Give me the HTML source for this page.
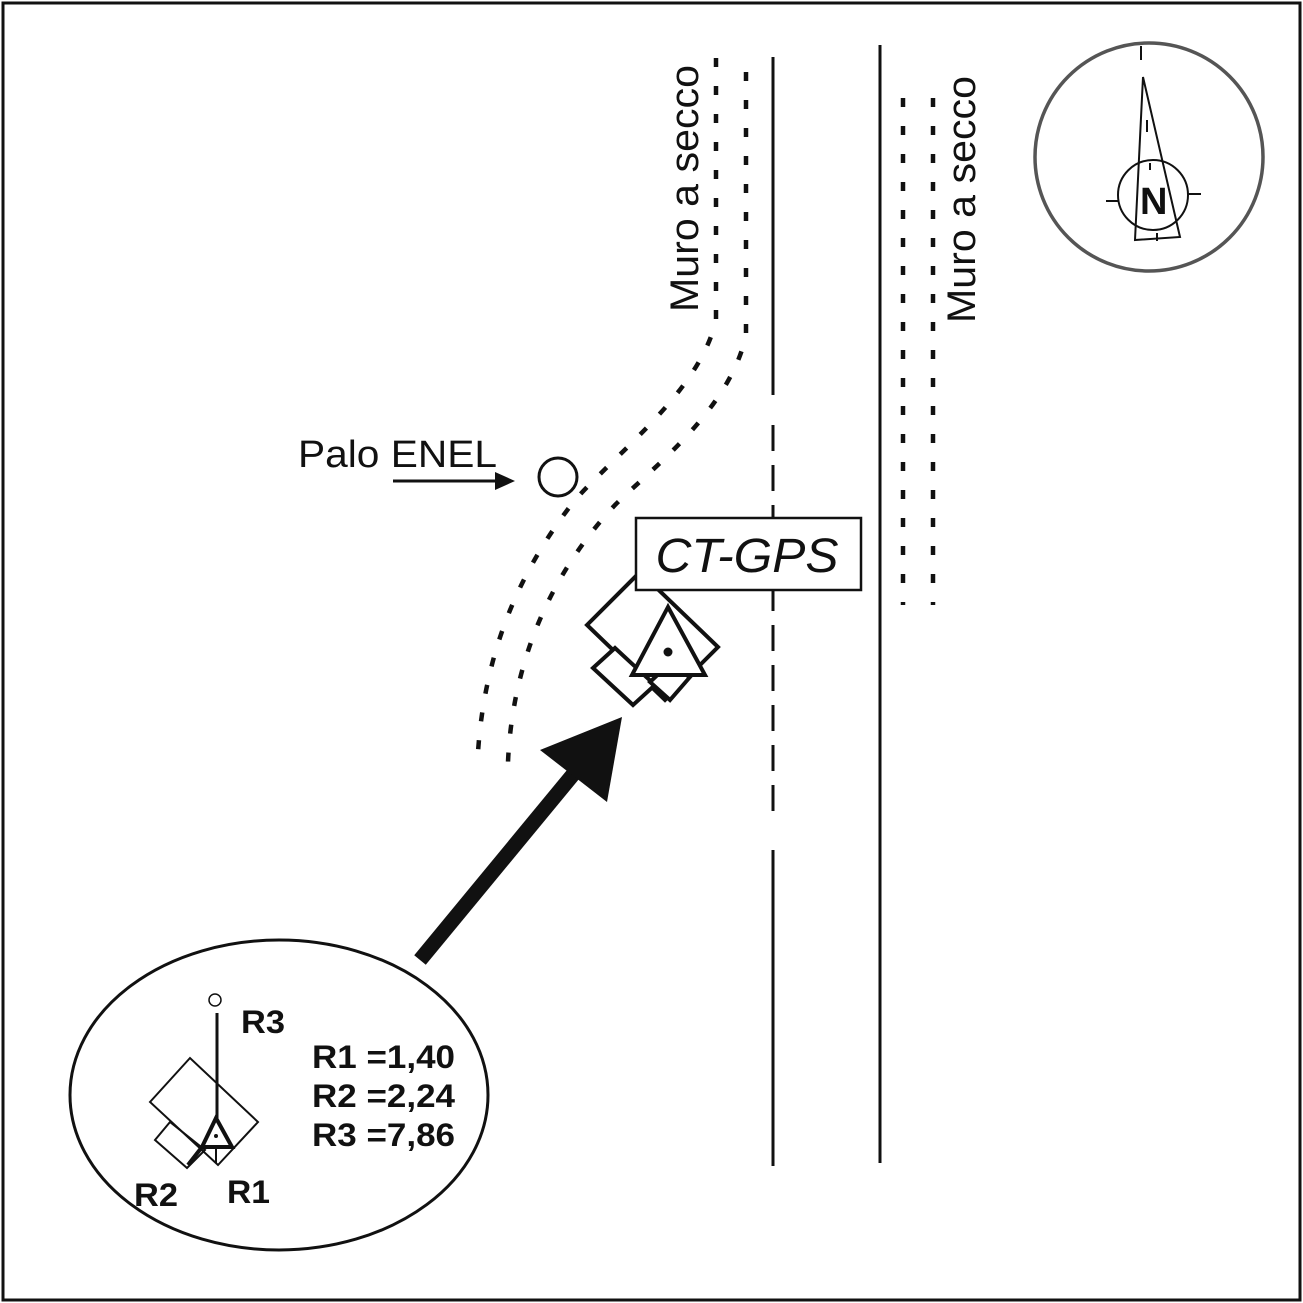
<!DOCTYPE html>
<html><head><meta charset="utf-8"><style>
html,body{margin:0;padding:0;background:#fff}
svg{display:block}
text{font-family:"Liberation Sans",Arial,sans-serif;fill:#111}
</style></head><body>
<svg width="1303" height="1303" viewBox="0 0 1303 1303" xmlns="http://www.w3.org/2000/svg">
<rect x="3" y="3" width="1297" height="1297" fill="#fff" stroke="#111" stroke-width="3"/>
<!-- walls -->
<line x1="773" y1="57" x2="773" y2="395" stroke="#111" stroke-width="3"/>
<line x1="773" y1="425" x2="773" y2="820" stroke="#111" stroke-width="3" stroke-dasharray="26,14"/>
<line x1="773" y1="850" x2="773" y2="1166" stroke="#111" stroke-width="3"/>
<line x1="880" y1="45" x2="880" y2="1163" stroke="#111" stroke-width="3"/>
<!-- dotted -->
<g fill="none" stroke="#111" stroke-width="4.5" stroke-dasharray="9,19">
<line x1="903" y1="98" x2="903" y2="605"/>
<line x1="933" y1="98" x2="933" y2="605"/>
<path d="M716 58 L716 320 C700 390 620 450 575 500 C520 570 485 650 478 752"/>
<path d="M746 72 L746 335 C730 410 650 470 615 505 C545 580 512 670 508 762"/>
</g>
<text transform="translate(698,312) rotate(-90)" font-size="40" textLength="247" lengthAdjust="spacingAndGlyphs">Muro a secco</text>
<text transform="translate(975,323) rotate(-90)" font-size="40" textLength="247" lengthAdjust="spacingAndGlyphs">Muro a secco</text>
<!-- compass -->
<circle cx="1149" cy="157" r="114" fill="none" stroke="#555" stroke-width="3.5"/>
<line x1="1141" y1="46" x2="1141" y2="60" stroke="#111" stroke-width="2"/>
<polygon points="1143,77 1135,240 1180,237" fill="none" stroke="#111" stroke-width="2"/>
<line x1="1147" y1="120" x2="1147" y2="132" stroke="#111" stroke-width="2"/>
<circle cx="1153" cy="195" r="35" fill="none" stroke="#111" stroke-width="2"/>
<line x1="1106" y1="201" x2="1119" y2="201" stroke="#111" stroke-width="2"/>
<line x1="1188" y1="194" x2="1201" y2="194" stroke="#111" stroke-width="2"/>
<line x1="1150" y1="163" x2="1150" y2="170" stroke="#111" stroke-width="2"/>
<line x1="1157" y1="233" x2="1157" y2="241" stroke="#111" stroke-width="2"/>
<text x="1140" y="214" font-size="38" font-weight="bold">N</text>
<!-- palo enel -->
<text x="298" y="467" font-size="38" textLength="199" lengthAdjust="spacingAndGlyphs">Palo ENEL</text>
<line x1="393" y1="481" x2="500" y2="481" stroke="#111" stroke-width="3"/>
<polygon points="495,472 515,481 495,490" fill="#111"/>
<circle cx="558" cy="477" r="19" fill="none" stroke="#111" stroke-width="3"/>
<!-- station symbol -->
<g fill="#fff" stroke="#111" stroke-width="4" stroke-linejoin="miter">
<polygon points="587,625 640,572 718,647 665,700"/>
<polygon points="593,668 615,648 655,685 633,705"/>
<polygon points="650,682 668,665 690,677 670,700"/>
<polygon points="668,607 632,675 705,675"/>
</g>
<circle cx="668" cy="652" r="4.5" fill="#111"/>
<rect x="636" y="518" width="225" height="72" fill="#fff" stroke="#111" stroke-width="2.5"/>
<text x="747" y="572" font-size="48" font-style="italic" text-anchor="middle" textLength="183" lengthAdjust="spacingAndGlyphs">CT-GPS</text>
<!-- big arrow -->
<line x1="420" y1="960" x2="585" y2="760" stroke="#111" stroke-width="15"/>
<polygon points="622,717 540,750 607,802" fill="#111"/>
<!-- inset -->
<ellipse cx="279" cy="1095" rx="209" ry="155" fill="#fff" stroke="#111" stroke-width="3"/>
<circle cx="215" cy="1000" r="6" fill="none" stroke="#111" stroke-width="1.5"/>
<g fill="none" stroke="#111" stroke-width="2">
<polygon points="150,1102 190,1058 258,1122 218,1165"/>
<polygon points="155,1140 170,1122 205,1150 187,1168"/>
</g>
<line x1="217" y1="1013" x2="217" y2="1118" stroke="#111" stroke-width="3"/>
<polygon points="216,1118 202,1147 232,1147" fill="#fff" stroke="#111" stroke-width="4"/>
<circle cx="216" cy="1136" r="2" fill="#111"/>
<line x1="216" y1="1147" x2="216" y2="1163" stroke="#111" stroke-width="2"/>
<line x1="202" y1="1147" x2="188" y2="1165" stroke="#111" stroke-width="4"/>
<g font-size="32" font-weight="bold">
<text x="241" y="1033" textLength="44" lengthAdjust="spacingAndGlyphs">R3</text>
<text x="312" y="1068" textLength="143" lengthAdjust="spacingAndGlyphs">R1 =1,40</text>
<text x="312" y="1107" textLength="143" lengthAdjust="spacingAndGlyphs">R2 =2,24</text>
<text x="312" y="1146" textLength="143" lengthAdjust="spacingAndGlyphs">R3 =7,86</text>
<text x="134" y="1206" textLength="44" lengthAdjust="spacingAndGlyphs">R2</text>
<text x="227" y="1203" textLength="43" lengthAdjust="spacingAndGlyphs">R1</text>
</g>
</svg>
</body></html>
